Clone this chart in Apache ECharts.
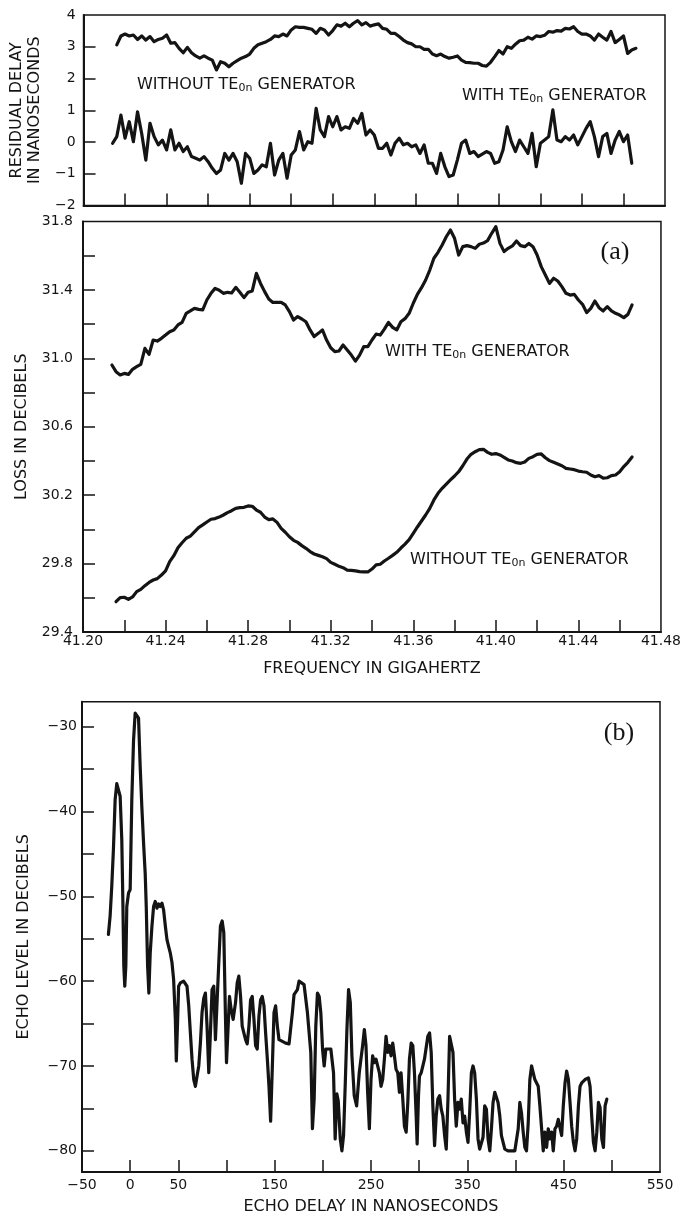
<!DOCTYPE html>
<html>
<head>
<meta charset="utf-8">
<script src="https://cdn.jsdelivr.net/npm/echarts@6/dist/echarts.min.js"></script>
<style>
html, body { margin: 0; padding: 0; background: #fff; }
#main { width: 684px; height: 1217px; }
</style>
</head>
<body>
<div id="main"></div>
<script>
// frequency samples (GHz) shared by panels 1 and 2
var freq = [
  41.214, 41.216, 41.218, 41.220, 41.222, 41.224, 41.226, 41.228, 41.230, 41.232,
  41.234, 41.236, 41.238, 41.240, 41.242, 41.244, 41.246, 41.248, 41.250, 41.252,
  41.254, 41.256, 41.258, 41.260, 41.262, 41.264, 41.266, 41.268, 41.270, 41.272,
  41.274, 41.276, 41.278, 41.280, 41.282, 41.284, 41.286, 41.288, 41.290, 41.292,
  41.294, 41.296, 41.298, 41.300, 41.302, 41.304, 41.306, 41.308, 41.310, 41.312,
  41.314, 41.316, 41.318, 41.320, 41.322, 41.324, 41.326, 41.328, 41.330, 41.332,
  41.334, 41.336, 41.338, 41.340, 41.342, 41.344, 41.346, 41.348, 41.350, 41.352,
  41.354, 41.356, 41.358, 41.360, 41.362, 41.364, 41.366, 41.368, 41.370, 41.372,
  41.374, 41.376, 41.378, 41.380, 41.382, 41.384, 41.386, 41.388, 41.390, 41.392,
  41.394, 41.396, 41.398, 41.400, 41.402, 41.404, 41.406, 41.408, 41.410, 41.412,
  41.414, 41.416, 41.418, 41.420, 41.422, 41.424, 41.426, 41.428, 41.430, 41.432,
  41.434, 41.436, 41.438, 41.440, 41.442, 41.444, 41.446, 41.448, 41.450, 41.452,
  41.454, 41.456, 41.458, 41.460, 41.462, 41.464, 41.466
];

// residual delay, ns
var delayWithout = [
  null, 3.06, 3.34, 3.40, 3.34, 3.37, 3.23, 3.34, 3.21, 3.32,
  3.16, 3.23, 3.27, 3.37, 3.11, 3.13, 2.95, 2.81, 2.98, 2.81,
  2.71, 2.64, 2.71, 2.64, 2.58, 2.27, 2.53, 2.48, 2.37, 2.48,
  2.56, 2.64, 2.69, 2.77, 2.95, 3.06, 3.11, 3.16, 3.23, 3.34,
  3.32, 3.40, 3.34, 3.53, 3.63, 3.61, 3.61, 3.58, 3.55, 3.42,
  3.58, 3.53, 3.37, 3.51, 3.69, 3.65, 3.74, 3.63, 3.74, 3.82,
  3.69, 3.76, 3.65, 3.69, 3.72, 3.58, 3.55, 3.42, 3.42, 3.32,
  3.21, 3.13, 3.09, 3.00, 3.00, 2.92, 2.92, 2.77, 2.72, 2.77,
  2.69, 2.64, 2.67, 2.71, 2.58, 2.51, 2.50, 2.48, 2.48, 2.41,
  2.39, 2.51, 2.69, 2.88, 2.77, 3.00, 2.95, 3.08, 3.19, 3.21,
  3.30, 3.24, 3.34, 3.32, 3.36, 3.48, 3.46, 3.51, 3.49, 3.58,
  3.56, 3.63, 3.48, 3.40, 3.40, 3.34, 3.21, 3.40, 3.30, 3.21,
  3.48, 3.13, 3.23, 3.34, 2.79, 2.90, 2.95
];
var delayWith = [
  -0.04, 0.17, 0.85, 0.12, 0.64, 0.01, 0.95, 0.27, -0.57, 0.59,
  0.17, -0.09, 0.06, -0.25, 0.38, -0.25, -0.04, -0.30, -0.15, -0.46,
  -0.51, -0.57, -0.46, -0.62, -0.83, -0.99, -0.88, -0.36, -0.57, -0.36,
  -0.62, -1.30, -0.36, -0.51, -0.99, -0.88, -0.72, -0.78, -0.04, -1.04,
  -0.57, -0.36, -1.14, -0.41, -0.25, 0.33, -0.25, 0.01, -0.04, 1.06,
  0.38, 0.17, 0.80, 0.48, 0.80, 0.38, 0.48, 0.43, 0.74, 0.59,
  0.90, 0.22, 0.38, 0.22, -0.20, -0.20, -0.04, -0.41, -0.04, 0.12,
  -0.09, -0.04, -0.15, -0.09, -0.36, -0.09, -0.67, -0.67, -0.99, -0.36,
  -0.78, -1.09, -1.04, -0.57, -0.04, 0.06, -0.36, -0.30, -0.46, -0.38,
  -0.30, -0.36, -0.67, -0.62, -0.25, 0.48, 0.01, -0.30, 0.06, -0.15,
  -0.36, 0.27, -0.78, -0.04, 0.06, 0.17, 1.01, 0.06, 0.01, 0.17,
  0.06, 0.22, -0.09, 0.17, 0.43, 0.64, 0.17, -0.46, 0.17, 0.27,
  -0.36, 0.06, 0.33, 0.01, 0.22, -0.67, null
];

// loss, dB
var lossWith = [
  30.961, 30.922, 30.903, 30.912, 30.906, 30.936, 30.951, 30.965, 31.058, 31.023,
  31.107, 31.101, 31.117, 31.136, 31.156, 31.166, 31.195, 31.210, 31.263, 31.277,
  31.292, 31.286, 31.283, 31.341, 31.380, 31.409, 31.398, 31.380, 31.386, 31.382,
  31.415, 31.386, 31.355, 31.386, 31.394, 31.497, 31.438, 31.390, 31.347, 31.327,
  31.327, 31.327, 31.312, 31.273, 31.224, 31.244, 31.230, 31.214, 31.166, 31.127,
  31.146, 31.166, 31.107, 31.062, 31.039, 31.043, 31.078, 31.049, 31.019, 30.984,
  31.019, 31.068, 31.068, 31.107, 31.142, 31.136, 31.171, 31.210, 31.181, 31.166,
  31.214, 31.232, 31.263, 31.322, 31.374, 31.413, 31.458, 31.516, 31.585, 31.620,
  31.663, 31.711, 31.750, 31.702, 31.604, 31.653, 31.659, 31.653, 31.643, 31.667,
  31.674, 31.688, 31.731, 31.770, 31.672, 31.624, 31.643, 31.657, 31.686, 31.659,
  31.653, 31.672, 31.653, 31.604, 31.536, 31.487, 31.438, 31.468, 31.452, 31.419,
  31.380, 31.370, 31.374, 31.341, 31.316, 31.267, 31.292, 31.335, 31.296, 31.277,
  31.302, 31.277, 31.263, 31.253, 31.238, 31.257, 31.312
];
var lossWithout = [
  null, 29.577, 29.601, 29.603, 29.591, 29.605, 29.636, 29.649, 29.671, 29.690,
  29.704, 29.712, 29.733, 29.757, 29.811, 29.846, 29.893, 29.922, 29.948, 29.961,
  29.985, 30.010, 30.026, 30.043, 30.059, 30.063, 30.072, 30.084, 30.098, 30.109,
  30.123, 30.127, 30.129, 30.137, 30.135, 30.113, 30.100, 30.072, 30.057, 30.061,
  30.041, 30.006, 29.983, 29.957, 29.936, 29.924, 29.905, 29.889, 29.870, 29.856,
  29.848, 29.840, 29.829, 29.807, 29.796, 29.784, 29.776, 29.762, 29.760, 29.757,
  29.753, 29.751, 29.751, 29.768, 29.792, 29.796, 29.815, 29.831, 29.848, 29.866,
  29.891, 29.914, 29.940, 29.977, 30.014, 30.049, 30.084, 30.123, 30.172, 30.211,
  30.240, 30.265, 30.289, 30.312, 30.337, 30.372, 30.411, 30.439, 30.454, 30.466,
  30.468, 30.450, 30.439, 30.443, 30.435, 30.421, 30.406, 30.400, 30.390, 30.386,
  30.394, 30.415, 30.425, 30.439, 30.441, 30.419, 30.402, 30.392, 30.382, 30.372,
  30.357, 30.353, 30.349, 30.341, 30.337, 30.334, 30.318, 30.308, 30.314, 30.300,
  30.302, 30.314, 30.318, 30.337, 30.367, 30.392, 30.423
];

// echo level: [delay ns, level dB]
var echoPoints = [
  [-22.6,-54.5],[-20.8,-52.3],[-19.1,-48.8],[-17.4,-44.5],[-15.6,-38.6],[-13.9,-36.7],[-12.2,-36.5],[-10.4,-38.2],
  [-8.7,-43.3],[-7.6,-50.4],[-6.6,-58.2],[-5.6,-60.6],[-4.5,-58.2],[-3.5,-51.2],[-1.7,-49.6],[0.0,-49.2],
  [1.7,-38.6],[3.5,-31.6],[5.2,-28.4],[6.9,-28.2],[8.7,-29.0],[10.4,-34.7],[12.1,-39.4],[13.9,-43.7],
  [15.6,-47.3],[16.7,-51.2],[18.1,-58.2],[19.4,-61.4],[20.8,-56.7],[22.6,-53.5],[24.3,-51.2],[26.0,-50.6],
  [27.8,-51.4],[29.5,-50.9],[31.2,-51.2],[33.0,-50.8],[34.7,-51.6],[36.5,-53.5],[38.2,-55.1],[39.9,-55.9],
  [41.7,-56.7],[43.4,-57.8],[45.1,-59.8],[46.9,-64.5],[47.9,-69.4],[49.3,-64.5],[50.3,-60.6],[52.1,-60.2],
  [55.5,-60.0],[57.3,-59.8],[59.0,-60.6],[60.8,-62.9],[62.5,-66.1],[64.2,-69.2],[66.0,-71.6],[67.7,-72.4],
  [69.4,-71.2],[71.2,-70.0],[72.9,-67.3],[74.6,-63.7],[76.4,-62.0],[78.1,-61.4],[79.8,-65.3],[81.6,-70.8],
  [83.3,-66.1],[85.0,-61.0],[86.8,-60.6],[88.5,-66.9],[90.3,-62.2],[92.0,-57.8],[93.7,-53.5],[95.5,-52.9],
  [97.2,-54.3],[98.9,-64.1],[100.0,-69.6],[101.4,-66.1],[103.1,-61.8],[104.8,-63.3],[106.9,-64.5],[109.4,-62.5],
  [111.1,-60.2],[112.8,-59.4],[114.6,-61.8],[116.3,-65.3],[118.0,-66.1],[119.8,-66.9],[121.5,-67.4],[123.3,-65.3],
  [125.0,-62.2],[126.7,-61.8],[128.5,-64.5],[130.2,-67.6],[131.9,-68.0],[133.7,-64.1],[135.4,-62.2],[137.1,-61.8],
  [138.9,-62.9],[140.6,-66.1],[142.4,-69.2],[144.1,-72.4],[145.8,-76.5],[147.6,-70.0],[149.3,-63.7],[151.0,-62.9],
  [152.8,-65.3],[154.5,-66.9],[158.0,-67.1],[161.4,-67.3],[164.9,-67.4],[168.4,-63.7],[170.1,-61.6],[173.6,-61.0],
  [175.3,-60.0],[177.1,-59.8],[180.5,-60.4],[184.0,-63.7],[187.5,-68.4],[189.2,-77.4],[191.0,-73.9],[192.7,-65.3],
  [194.4,-61.4],[196.2,-61.8],[197.9,-63.7],[199.7,-68.0],[201.4,-70.0],[203.1,-68.0],[204.9,-67.8],[208.3,-68.0],
  [211.1,-70.8],[212.8,-78.6],[214.6,-73.3],[216.0,-74.1],[218.1,-78.6],[219.8,-80.0],[221.5,-78.2],[223.3,-72.0],
  [225.0,-65.7],[226.7,-61.0],[228.5,-62.5],[230.2,-68.8],[232.6,-73.5],[235.1,-74.7],[237.8,-70.8],[241.3,-67.6],
  [243.1,-65.7],[244.8,-67.6],[246.5,-73.1],[248.3,-77.4],[250.0,-71.6],[251.7,-68.8],[253.5,-69.6],[255.2,-69.2],
  [258.7,-70.8],[260.4,-72.4],[262.1,-71.6],[263.9,-69.2],[265.6,-66.5],[267.4,-68.4],[269.1,-67.6],[270.8,-68.8],
  [272.6,-67.3],[274.3,-68.8],[276.0,-70.4],[277.8,-70.8],[279.5,-73.1],[281.2,-70.8],[283.0,-73.9],[284.7,-77.1],
  [286.5,-77.8],[288.2,-74.3],[289.9,-69.2],[291.7,-67.3],[293.4,-67.6],[295.1,-70.8],[296.9,-75.9],[297.9,-79.2],
  [299.3,-73.5],[300.3,-71.2],[302.1,-70.8],[305.5,-69.2],[309.0,-66.5],[310.8,-66.1],[312.5,-68.4],[314.2,-74.7],
  [316.0,-79.4],[317.7,-75.9],[319.4,-73.9],[321.2,-73.5],[322.9,-75.1],[324.6,-75.9],[326.4,-78.2],[328.1,-79.8],
  [329.9,-73.9],[331.6,-66.5],[333.3,-66.5],[335.1,-68.4],[336.8,-73.9],[338.5,-77.1],[340.3,-74.3],[342.0,-75.1],
  [343.7,-73.9],[345.5,-76.7],[347.2,-75.9],[349.0,-77.8],[350.7,-79.0],[352.4,-75.5],[354.2,-70.8],[355.9,-70.0],
  [357.6,-70.8],[359.4,-73.9],[361.1,-78.6],[362.8,-79.8],[364.6,-80.0],[366.3,-78.4],[368.0,-74.7],[369.8,-75.1],
  [371.5,-78.6],[373.3,-80.0],[375.0,-77.4],[376.7,-74.3],[378.5,-73.1],[380.2,-73.1],[381.9,-74.3],[383.7,-75.9],
  [385.4,-78.2],[388.9,-79.8],[392.3,-80.0],[395.8,-80.0],[399.3,-80.0],[402.8,-77.4],[404.5,-74.3],[406.2,-75.5],
  [408.0,-77.8],[409.7,-79.6],[411.4,-80.0],[413.2,-76.7],[414.9,-71.6],[416.7,-70.0],[418.4,-70.8],[420.1,-71.6],
  [421.9,-71.4],[423.6,-72.4],[425.3,-74.7],[427.1,-77.4],[428.8,-80.0],[430.5,-77.8],[432.3,-79.6],[434.0,-77.4],
  [435.7,-78.6],[437.5,-77.8],[439.2,-80.0],[441.0,-77.4],[442.7,-77.1],[444.4,-76.3],[446.2,-76.1],[447.9,-78.2],
  [449.6,-74.7],[451.4,-72.0],[453.1,-70.6],[454.9,-71.6],[456.6,-74.3],[458.3,-77.1],[460.1,-79.0],[461.8,-80.0],
  [463.5,-78.6],[465.3,-74.7],[467.0,-72.4],[468.7,-72.0],[472.2,-71.6],[475.7,-71.4],[477.4,-72.4],[479.1,-75.9],
  [480.9,-79.0],[482.6,-80.0],[484.4,-77.8],[486.1,-74.3],[487.8,-74.9],[489.6,-78.6],[491.3,-79.6],[493.0,-74.7],
  [494.8,-73.9]
];

// tick / label values
var freqTicks = [41.22, 41.24, 41.26, 41.28, 41.30, 41.32, 41.34, 41.36, 41.38, 41.40, 41.42, 41.44, 41.46];
var freqLabels = [41.20, 41.24, 41.28, 41.32, 41.36, 41.40, 41.44, 41.48];
var delayTicks = [-1, 0, 1, 2, 3];
var delayLabels = [-2, -1, 0, 1, 2, 3, 4];
var lossTicks = [29.6, 29.8, 30.0, 30.2, 30.4, 30.6, 30.8, 31.0, 31.2, 31.4, 31.6];
var lossLabels = [29.4, 29.8, 30.2, 30.6, 31.0, 31.4, 31.8];
var echoXTicks = [0, 50, 100, 150, 200, 250, 300, 350, 400, 450, 500];
var echoXLabels = [-50, 0, 50, 150, 250, 350, 450, 550];
var echoYTicks = [-80, -75, -70, -65, -60, -55, -50, -45, -40, -35, -30];
var echoYLabels = [-80, -70, -60, -50, -40, -30];

var ink = '#141414';
var fam = 'DejaVu Sans';

function pairs(ys) {
    return freq.map(function (f, i) { return [f, ys[i]]; });
}
function minus(s) {
    return String(s).replace('-', '\u2212');
}
function frame(l, t, w, h) {
    return { left: l, top: t, width: w, height: h, show: true, borderColor: ink, borderWidth: 1.5, backgroundColor: 'transparent' };
}
function axisBase(grid, min, max, ticks) {
    return {
        gridIndex: grid, type: 'value', min: min, max: max,
        axisLine: { show: true, onZero: false, lineStyle: { color: ink, width: 2 } },
        axisTick: { show: true, inside: true, length: 12, lineStyle: { color: ink, width: 1.5 }, customValues: ticks },
        splitLine: { show: false },
        nameTextStyle: { color: ink, fontFamily: fam, fontSize: 16, lineHeight: 18 }
    };
}
function labels(vals, fmt, margin) {
    return { show: true, customValues: vals, formatter: fmt, margin: margin, color: ink, fontFamily: fam, fontSize: 14 };
}
function line(x, y, data) {
    return {
        type: 'line', xAxisIndex: x, yAxisIndex: y, data: data, showSymbol: false, symbol: 'none',
        lineStyle: { color: ink, width: 3.2, join: 'round', cap: 'round' }, connectNulls: false, silent: true
    };
}
function note(x, y, pre, post) {
    return {
        type: 'text', x: x, y: y,
        style: {
            text: '{a|' + pre + '}{s|0n}{a|' + post + '}',
            verticalAlign: 'middle', align: 'left',
            rich: {
                a: { fontFamily: fam, fontSize: 16, lineHeight: 18, fill: ink },
                s: { fontFamily: fam, fontSize: 11, lineHeight: 7, verticalAlign: 'bottom', fill: ink }
            }
        }
    };
}

var x0 = axisBase(0, 41.20, 41.48, freqTicks);
x0.axisLabel = { show: false };
var y0 = axisBase(0, -2, 4, delayTicks);
y0.axisLabel = labels(delayLabels, function (v) { return minus(Math.round(v)); }, 8);
y0.name = 'RESIDUAL DELAY\nIN NANOSECONDS';
y0.nameLocation = 'middle'; y0.nameRotate = 90; y0.nameGap = 39;

var x1 = axisBase(1, 41.20, 41.48, freqTicks);
x1.axisLabel = labels(freqLabels, function (v) { return v.toFixed(2); }, 2);
x1.name = 'FREQUENCY IN GIGAHERTZ';
x1.nameLocation = 'middle'; x1.nameGap = 28;
var y1 = axisBase(1, 29.4, 31.8, lossTicks);
y1.axisLabel = labels(lossLabels, function (v) { return v.toFixed(1); }, 10);
y1.name = 'LOSS IN DECIBELS';
y1.nameLocation = 'middle'; y1.nameRotate = 90; y1.nameGap = 51;

var x2 = axisBase(2, -50, 550, echoXTicks);
x2.axisLabel = labels(echoXLabels, function (v) { return minus(Math.round(v)); }, 6);
x2.name = 'ECHO DELAY IN NANOSECONDS';
x2.nameLocation = 'middle'; x2.nameGap = 26;
var y2 = axisBase(2, -82.5, -27.05, echoYTicks);
y2.axisLabel = labels(echoYLabels, function (v) { return minus(Math.round(v)); }, 5);
y2.name = 'ECHO LEVEL IN DECIBELS';
y2.nameLocation = 'middle'; y2.nameRotate = 90; y2.nameGap = 49;

var chart = echarts.init(document.getElementById('main'), null, { renderer: 'canvas' });
chart.setOption({
    animation: false,
    backgroundColor: '#fff',
    grid: [frame(83, 15, 582, 190.5), frame(83, 221.5, 582, 410.5), frame(82, 701.7, 578, 471.3)],
    xAxis: [x0, x1, x2],
    yAxis: [y0, y1, y2],
    series: [
        line(0, 0, pairs(delayWithout)),
        line(0, 0, pairs(delayWith)),
        line(1, 1, pairs(lossWith)),
        line(1, 1, pairs(lossWithout)),
        line(2, 2, echoPoints)
    ],
    graphic: [
        note(137, 85, 'WITHOUT TE', ' GENERATOR'),
        note(462, 96, 'WITH TE', ' GENERATOR'),
        note(385, 352, 'WITH TE', ' GENERATOR'),
        note(410, 560, 'WITHOUT TE', ' GENERATOR'),
        { type: 'text', x: 615, y: 252, style: { text: '(a)', font: '26px "Liberation Serif"', fill: ink, align: 'center', verticalAlign: 'middle' } },
        { type: 'text', x: 619, y: 733, style: { text: '(b)', font: '26px "Liberation Serif"', fill: ink, align: 'center', verticalAlign: 'middle' } }
    ]
});
</script>
</body>
</html>
